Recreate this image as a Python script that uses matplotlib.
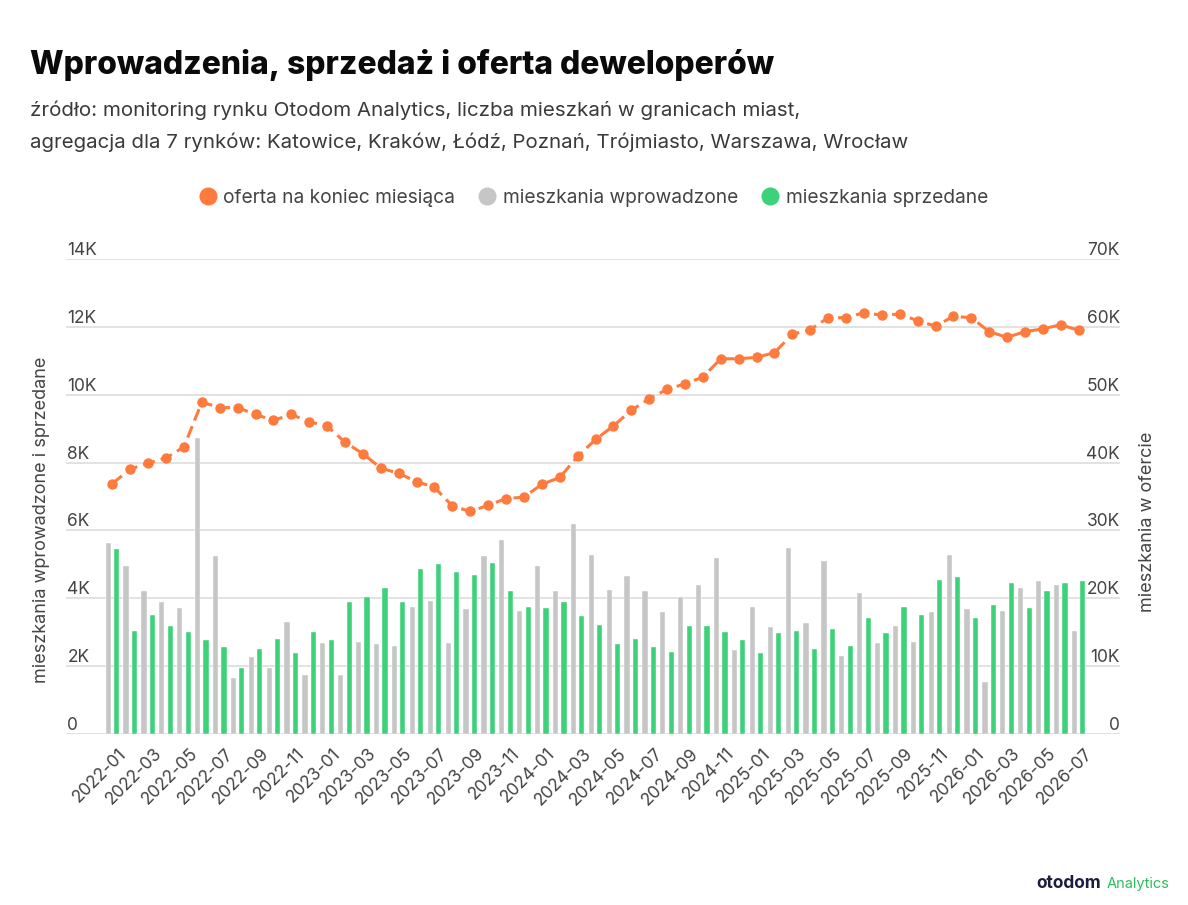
import matplotlib
matplotlib.use("Agg")
import matplotlib.pyplot as plt
from matplotlib.lines import Line2D
import numpy as np

plt.rcParams['font.family'] = ['Inter', 'DejaVu Sans']

# ---- data ----
months = [f"{y}-{m:02d}" for y in range(2022, 2027) for m in range(1, 13)][:55]

introduced = [5.64, 4.95, 4.21, 3.88, 3.71, 8.71, 5.24, 1.65, 2.27, 1.94, 3.30, 1.74,
              2.68, 1.74, 2.72, 2.64, 2.60, 3.75, 3.92, 2.68, 3.67, 5.24, 5.73, 3.63,
              4.95, 4.21, 6.18, 5.28, 4.25, 4.66, 4.21, 3.59, 4.04, 4.38, 5.19, 2.47,
              3.75, 3.14, 5.49, 3.26, 5.11, 2.31, 4.17, 2.68, 3.18, 2.72, 3.59, 5.28,
              3.67, 1.53, 3.63, 4.29, 4.50, 4.38, 3.05]
introduced = [v * 1000 for v in introduced]

sold = [5.44, 3.05, 3.50, 3.18, 3.01, 2.77, 2.56, 1.94, 2.52, 2.81, 2.40, 3.01,
        2.77, 3.88, 4.04, 4.29, 3.88, 4.87, 5.00, 4.78, 4.70, 5.04, 4.21, 3.75,
        3.71, 3.88, 3.47, 3.22, 2.64, 2.81, 2.56, 2.43, 3.18, 3.18, 3.01, 2.77,
        2.40, 2.97, 3.05, 2.51, 3.09, 2.60, 3.43, 2.97, 3.75, 3.50, 4.53, 4.62,
        3.43, 3.80, 4.46, 3.71, 4.21, 4.46, 4.50]
sold = [v * 1000 for v in sold]

offer = [36.9, 39.05, 39.9, 40.7, 42.3, 48.9, 48.1, 48.1, 47.1, 46.2, 47.1, 46.0,
         45.4, 43.0, 41.3, 39.2, 38.4, 37.2, 36.35, 33.6, 32.8, 33.7, 34.7, 34.9,
         36.8, 37.8, 40.9, 43.4, 45.4, 47.7, 49.4, 50.8, 51.6, 52.6, 55.3, 55.3,
         55.5, 56.2, 58.9, 59.6, 61.35, 61.35, 62.1, 61.7, 61.9, 60.9, 60.1, 61.55,
         61.35, 59.3, 58.45, 59.3, 59.7, 60.3, 59.5]
offer = [v * 1000 for v in offer]

left_ticks = [0, 2000, 4000, 6000, 8000, 10000, 12000, 14000]
left_labels = ["0", "2K", "4K", "6K", "8K", "10K", "12K", "14K"]
right_ticks = [0, 10000, 20000, 30000, 40000, 50000, 60000, 70000]
right_labels = ["0", "10K", "20K", "30K", "40K", "50K", "60K", "70K"]

C_ORANGE = "#FF7A3D"
C_GREY = "#C6C6C6"
C_GREEN = "#3DD17A"
C_TEXT = "#444444"

# ---- figure ----
fig = plt.figure(figsize=(11.88, 9.05), dpi=100)
W, H = 1188, 905
ax = fig.add_axes([66 / W, (H - 734) / H, (1120 - 66) / W, (734 - 259) / H])

x = np.arange(len(months))
bw = 0.29
off = 0.235
ax.bar(x - off, introduced, width=bw, color=C_GREY, edgecolor="white", linewidth=0.3, zorder=2)
ax.bar(x + off, sold, width=bw, color=C_GREEN, edgecolor="white", linewidth=0.3, zorder=2)

ax.set_xlim(-2.59, 56.31)
ax.set_ylim(0, 14000)
ax.set_yticks(left_ticks)
ax.set_yticklabels(left_labels)
ax.grid(axis="y", color="#E2E2E2", linewidth=1.4, zorder=0)
ax.set_axisbelow(True)
for s in ax.spines.values():
    s.set_visible(False)
ax.tick_params(axis="y", length=0, pad=-1, labelsize=12.5, labelcolor=C_TEXT)
for lab in ax.get_yticklabels():
    lab.set_horizontalalignment("left")
    lab.set_verticalalignment("bottom")

ax.set_xticks(x[::2])
ax.set_xticklabels(months[::2], rotation=45, ha="right", va="top",
                   rotation_mode="anchor", fontsize=12.5, color=C_TEXT)
ax.tick_params(axis="x", length=0, pad=8)
for lab in ax.get_xticklabels():
    lab.set_transform(lab.get_transform() + matplotlib.transforms.ScaledTranslation(5 / 100, 0, fig.dpi_scale_trans))

ax2 = ax.twinx()
ax2.set_ylim(0, 70000)
ax2.set_yticks(right_ticks)
ax2.set_yticklabels(right_labels)
for s in ax2.spines.values():
    s.set_visible(False)
ax2.tick_params(axis="y", length=0, pad=0, labelsize=12.5, labelcolor=C_TEXT)
for lab in ax2.get_yticklabels():
    lab.set_horizontalalignment("right")
    lab.set_verticalalignment("bottom")
ax2.plot(x, offer, color=C_ORANGE, linewidth=2.2, linestyle=(0, (4, 2)),
         marker="o", markersize=7.5, markeredgewidth=0, zorder=3)

# axis titles
fig.text(42 / W, 1 - 520 / H, "mieszkania wprowadzone i sprzedane", rotation=90,
         ha="center", va="center", fontsize=13, color=C_TEXT)
fig.text(1148 / W, 1 - 522 / H, "mieszkania w ofercie", rotation=90,
         ha="center", va="center", fontsize=13, color=C_TEXT)

# title / subtitle
fig.text(30 / W, 1 - 65 / H, "Wprowadzenia, sprzedaż i oferta deweloperów",
         ha="left", va="center", fontsize=22.9, fontweight="heavy", color="#0A0A0A")
fig.text(30 / W, 1 - 110 / H,
         "źródło: monitoring rynku Otodom Analytics, liczba mieszkań w granicach miast,",
         ha="left", va="center", fontsize=14.8, color="#3A3A3A")
fig.text(30 / W, 1 - 142 / H,
         "agregacja dla 7 rynków: Katowice, Kraków, Łódź, Poznań, Trójmiasto, Warszawa, Wrocław",
         ha="left", va="center", fontsize=14.7, color="#3A3A3A")

# legend
handles = [Line2D([], [], linestyle="none", marker="o", markersize=13, color=c, markeredgewidth=0)
           for c in (C_ORANGE, C_GREY, C_GREEN)]
fig.legend(handles, ["oferta na koniec miesiąca", "mieszkania wprowadzone", "mieszkania sprzedane"],
           loc="center", bbox_to_anchor=(593 / W, 1 - 198 / H), ncol=3, frameon=False,
           fontsize=13.8, handletextpad=0.3, columnspacing=1.2, handlelength=1.0,
           labelcolor=C_TEXT)

# logo
fig.text(1036 / W, 1 - 883 / H, "otodom", ha="left", va="center", fontsize=12.5,
         fontweight="bold", color="#1B1E3C")
fig.text(1107 / W, 1 - 884 / H, "Analytics", ha="left", va="center", fontsize=10.5,
         color="#2EBE5E")

fig.savefig("out.png", dpi=100, facecolor="white")
